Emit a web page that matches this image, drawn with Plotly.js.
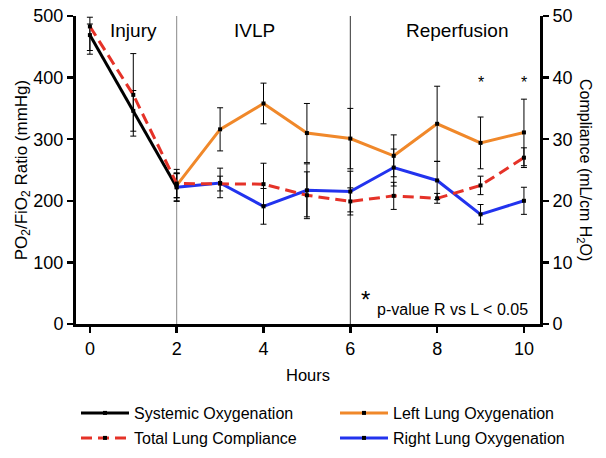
<html>
    <head>
        <title>Oxygenation and Compliance</title>
        <meta charset="utf-8">
        <script src="https://cdn.plot.ly/plotly-3.0.1.min.js"></script>
        <style type="text/css">
            body {margin:0; background:#fff}
            #chart {width:606px; height:458px}
        </style>
    </head>

    <body>
        <div id="chart"></div>
        <script>
            // hours on the x axis
            var hoursSys = [0, 1, 2];
            var hoursLung = [2, 3, 4, 5, 6, 7, 8, 9, 10];
            var hoursAll = [0, 1, 2, 3, 4, 5, 6, 7, 8, 9, 10];

            // PO2/FiO2 (mmHg)
            var systemic = [469, 346, 222];
            var systemicErrUp = [18, 33, 23];
            var systemicErrDown = [31, 33, 23];

            var leftLung = [225, 316, 358, 310, 301, 273, 325, 294, 311];
            var leftLungErr = [20, 35, 33, 48, 49, 34, 61, 42, 54];

            var rightLung = [222, 229, 191, 217, 215, 254, 233, 178, 200];
            var rightLungErr = [22, 24, 29, 43, 33, 30, 31, 16, 22];

            // compliance (mL/cm H2O)
            var compliance = [48.3, 37.2, 22.8, 22.8, 22.7, 20.9, 19.9, 20.8, 20.4, 22.5, 27.0];
            var complianceErrUp = [1.5, 6.7, 2.3, 1.2, 3.4, 3.8, 2.2, 2.2, 0.8, 1.5, 1.6];
            var complianceErrDown = [3.9, 6.7, 2.3, 1.2, 3.4, 3.8, 2.2, 2.2, 0.8, 1.5, 1.6];

            var phaseNames = ['Injury', 'IVLP', 'Reperfusion'];
            var phaseX = [1, 3.8, 8.45];
            var phaseLines = [2, 6];
            var sigHours = [9, 10];

            var font = 'Liberation Sans, Arial, sans-serif';
            var dot = {color: 'black', size: 4, symbol: 'square'};

            function errBars(up, down) {
                return {type: 'data', array: up, arrayminus: down, symmetric: false,
                        color: 'black', thickness: 1, width: 3};
            }

            // one legend per entry so the 2x2 grid sits where the reference has it
            var data = [
                {x: hoursSys, y: systemic, name: 'Systemic Oxygenation', mode: 'lines+markers',
                 line: {color: 'black', width: 3}, marker: dot,
                 error_y: errBars(systemicErrUp, systemicErrDown), legend: 'legend'},
                {x: hoursLung, y: leftLung, name: 'Left Lung Oxygenation', mode: 'lines+markers',
                 line: {color: '#F0882A', width: 3}, marker: dot,
                 error_y: errBars(leftLungErr, leftLungErr), legend: 'legend3'},
                {x: hoursLung, y: rightLung, name: 'Right Lung Oxygenation', mode: 'lines+markers',
                 line: {color: '#2233EE', width: 3}, marker: dot,
                 error_y: errBars(rightLungErr, rightLungErr), legend: 'legend4'},
                {x: hoursAll, y: compliance, name: 'Total Lung Compliance', mode: 'lines+markers', yaxis: 'y2',
                 line: {color: '#E53228', width: 3, dash: '11px,6px'}, marker: dot,
                 error_y: errBars(complianceErrUp, complianceErrDown), legend: 'legend2'}
            ];

            var annotations = [];
            for (var i = 0; i < phaseNames.length; i++) {
                annotations.push({x: phaseX[i], y: 476, text: phaseNames[i], showarrow: false,
                                  font: {size: 19, color: 'black'}});
            }
            for (var i = 0; i < sigHours.length; i++) {
                annotations.push({x: sigHours[i], y: 392, text: '*', showarrow: false,
                                  font: {size: 16, color: 'black'}});
            }
            annotations.push({x: 6.36, y: 40, text: '*', showarrow: false, font: {size: 24, color: 'black'}});
            annotations.push({x: 10.14, y: 24, xanchor: 'right', text: 'p-value R vs L < 0.05', showarrow: false,
                              font: {size: 16, color: 'black'}});
            annotations.push({xref: 'paper', yref: 'paper', x: 1.097, y: 0.5, xanchor: 'center', yanchor: 'middle',
                              textangle: 90, text: 'Compliance (mL/cm H<sub>2</sub>O)', showarrow: false,
                              font: {size: 16, color: 'black'}});

            var shapes = phaseLines.map(function (h, k) {
                return {type: 'line', xref: 'x', yref: 'y', x0: h, x1: h, y0: 0, y1: 500,
                        line: {color: k == 0 ? '#888888' : '#333333', width: 1}, layer: 'below'};
            });

            var axisStyle = {showline: true, linewidth: 3, linecolor: 'black', ticks: 'outside',
                             ticklen: 6, tickwidth: 2.5, tickcolor: 'black', showgrid: false, zeroline: false,
                             tickfont: {size: 18, color: 'black'}};

            function legendAt(left, mid) {
                return {orientation: 'h', xref: 'container', yref: 'container',
                        x: left / 606, y: 1 - mid / 458, xanchor: 'left', yanchor: 'middle',
                        itemwidth: 48, font: {size: 16}, bgcolor: 'rgba(0,0,0,0)'};
            }

            var layout = {
                width: 606, height: 458,
                margin: {l: 76, r: 66, t: 16, b: 134, autoexpand: false},
                font: {family: font, color: 'black'},
                paper_bgcolor: 'white', plot_bgcolor: 'white',
                showlegend: true,
                xaxis: Object.assign({}, axisStyle, {range: [-0.32, 10.37], tickvals: [0, 2, 4, 6, 8, 10],
                        title: {text: 'Hours', font: {size: 16.5}, standoff: 12}}),
                yaxis: Object.assign({}, axisStyle, {range: [0, 500], tickvals: [0, 100, 200, 300, 400, 500],
                        title: {text: 'PO<sub>2</sub>/FiO<sub>2</sub> Ratio (mmHg)', font: {size: 17}, standoff: 2}}),
                yaxis2: Object.assign({}, axisStyle, {range: [0, 50], tickvals: [0, 10, 20, 30, 40, 50],
                        overlaying: 'y', side: 'right'}),
                legend: legendAt(76, 413),
                legend2: legendAt(76, 438),
                legend3: legendAt(335, 413),
                legend4: legendAt(335, 438),
                annotations: annotations,
                shapes: shapes
            };

            Plotly.newPlot('chart', data, layout, {displayModeBar: false, staticPlot: true});
        </script>
    </body>
</html>
